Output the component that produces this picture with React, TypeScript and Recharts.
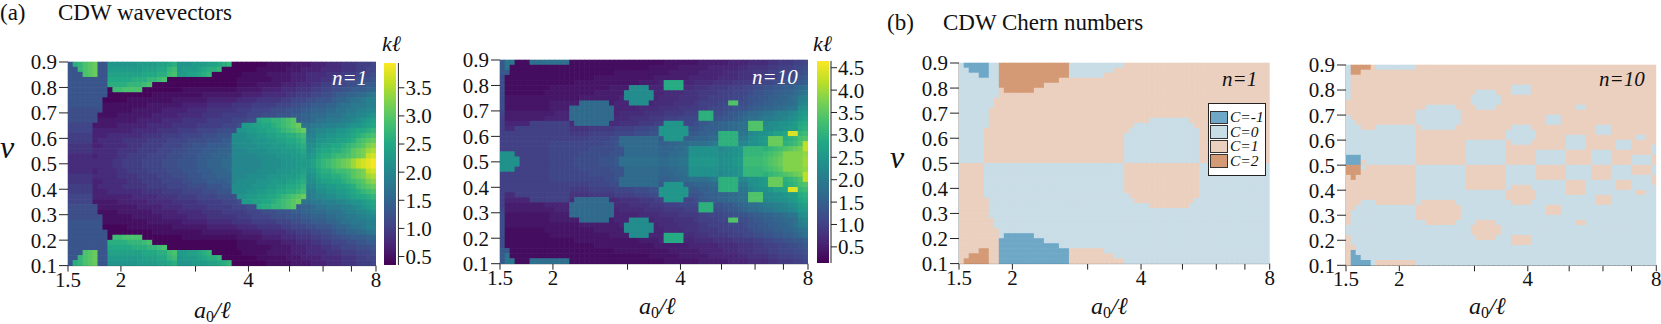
import React from "react";
import { Bar, BarChart, Scatter, ScatterChart, XAxis, YAxis } from "recharts";

const FONT = '"Liberation Serif", serif';

const xTicks = [1.5, 2, 3, 4, 5, 6, 7, 8];
const xLabelled = [1.5, 2, 4, 8];
const nuTicks = [0.1, 0.2, 0.3, 0.4, 0.5, 0.6, 0.7, 0.8, 0.9];
const barTicksN1 = [0.5, 1, 1.5, 2, 2.5, 3, 3.5];
const barTicksN10 = [0.5, 1, 1.5, 2, 2.5, 3, 3.5, 4, 4.5];

const viridis = ["#440154", "#482475", "#414487", "#355f8d", "#2a788e", "#21918c", "#22a884", "#44bf70", "#7ad151", "#bddf26", "#fde725"];
const chernColors: Record<string, string> = { a: "#6fa8c7", b: "#c9dde7", c: "#ebd0bf", d: "#d49a75" };
const chernLegend = [
  { code: "a", label: "C=-1" },
  { code: "b", label: "C=0" },
  { code: "c", label: "C=1" },
  { code: "d", label: "C=2" },
];

// one character per cell, k = 0.3 + 0.1 * position in this alphabet
const LEVELS = "0123456789abcdefghijklmnopqrstuvwxyzABCDEFGH";

// rows run from nu = 0.9 down to 0.1, 62 cells per row
const waveN1 = [
  "anoqrsaajj jjjjkkkkll mnjjjkkkll mno1111111 2222233334 4455566677 78",
  "aaoqrsaakk kkkkklllmm opjkkklmnn o111111122 2222333444 4555566677 88",
  "aaaqrsaall lllllmmmnn pqkkllmno1 1111122222 3333344455 5566677788 89",
  "aaaaaaaamm mmmnnnoopq 1111111111 1111222222 2333344455 5667788899 9a",
  "aaaaaaaann nnooopq111 1111111111 1111222233 3334445556 67788899aa bb",
  "aaaaaaaa1p pqqqq11111 1112222222 2222333334 4445556667 78899aabbb cc",
  "aaaaaaaa11 1111111222 2222222333 3333344445 5555667778 899abbccdd ef",
  "aaaaaaa111 1122222222 2333333344 4444555566 6667788899 aaabccdeef gg",
  "aaaaaaa222 2222223333 3334444455 5556666777 7788899aab bbccdeefff gg",
  "9999999222 2223333334 4444555566 6666777888 8999aaabbc ccddeeffgg hh",
  "9999992222 3333333444 4455555666 6777778889 99aaabbccd ddeeefgghh ij",
  "9999993333 3333444445 5556666677 77788899mn noopqrbccd eefffgghij kl",
  "8888833333 4444445555 5666667777 78889kkllm mnopqrseef fggghhijjk lm",
  "8888844444 4445555566 6677778888 9999jjkkll mmnopqrsfg hhiijjklmm no",
  "7777744455 5555566667 7778888999 aaaiiijjkk llmmnnopgg iijjkklmno pq",
  "7777745555 5666667777 88889999aa abbiiiijjj kkllmmnohh jjkkllmnpq rs",
  "6666644555 5566677778 88899aaabb bbchiiiijj jkkkllmnii kllmmnopqr tu",
  "6666655555 6666777788 8999aaabbb ccchhhiiii jjjkkklmij lmmnnoprst vw",
  "5555545555 6677778888 999aaabbbc ccdhhhhhii iijjjkkljk mnnoppqrst xy",
  "5555555556 6777788889 99aaaabbcc cddhhhhhhi iiijjjkkkl nopqrstvxy zA",
  "5555555556 6777788889 99aaaabbcc cddhhhhhhi iiijjjkkkl nopqrstvxy zA",
  "5555545555 6677778888 999aaabbbc ccdhhhhhii iijjjkkljk mnnoppqrst xy",
  "6666655555 6666777788 8999aaabbb ccchhhiiii jjjkkklmij lmmnnoprst vw",
  "6666644555 5566677778 88899aaabb bbchiiiijj jkkkllmnii kllmmnopqr tu",
  "7777745555 5666667777 88889999aa abbiiiijjj kkllmmnohh jjkkllmnpq rs",
  "7777744455 5555566667 7778888999 aaaiiijjkk llmmnnopgg iijjkklmno pq",
  "8888844444 4445555566 6677778888 9999jjkkll mmnopqrsfg hhiijjklmm no",
  "8888833333 4444445555 5666667777 78889kkllm mnopqrseef fggghhijjk lm",
  "9999993333 3333444445 5556666677 77788899mn noopqrbccd eefffgghij kl",
  "9999992222 3333333444 4455555666 6777778889 99aaabbccd ddeeefgghh ij",
  "9999999222 2223333334 4444555566 6666777888 8999aaabbc ccddeeffgg hh",
  "aaaaaaa222 2222223333 3334444455 5556666777 7788899aab bbccdeefff gg",
  "aaaaaaa111 1122222222 2333333344 4444555566 6667788899 aaabccdeef gg",
  "aaaaaaaa11 1111111222 2222222333 3333344445 5555667778 899abbccdd ef",
  "aaaaaaaa1p pqqqq11111 1112222222 2222333334 4445556667 78899aabbb cc",
  "aaaaaaaann nnooopq111 1111111111 1111222233 3334445556 67788899aa bb",
  "aaaaaaaamm mmmnnnoopq 1111111111 1111222222 2333344455 5667788899 9a",
  "aaaqrsaall lllllmmmnn pqkkllmno1 1111122222 3333344455 5566677788 89",
  "aaoqrsaakk kkkkklllmm opjkkklmnn o111111122 2222333444 4555566677 88",
  "anoqrsaajj jjjjkkkkll mnjjjkkkll mno1111111 2222233334 4455566677 78",
];

const waveN10 = [
  "bgg000ffff ffff000000 0000000000 0001111111 2222223333 4444556667 78",
  "bg00000000 0000000000 0000000000 1111112222 2233333344 5555667778 89",
  "bb00000000 0000000000 0001111111 1111222222 3333344455 5666778889 9a",
  "9000000000 0000000001 1111111111 1222222233 3333444455 5667778899 ab",
  "9000000000 0000011111 1111111122 223qqqq334 4445555666 6778899aab bc",
  "9000000000 1111111111 112222kkkk 333qqqq445 5566667778 899aabbccd ef",
  "9000000001 1111111112 22222kkkkk k334444555 6666777888 9aabbccdde fg",
  "9111111111 1111112222 22223kkkkk k344445555 6677778889 aabbccddef hi",
  "9111111111 222222eeee ee2333kkkk 3444455556 777788vv99 abbccddeef ij",
  "9111111111 2222eeeeee eee3333344 4455556666 7788899aaa bccddeefgg kl",
  "8222222222 2333eeeeee eee3444445 5556666777 rrr99abbcd eefgghiijk mn",
  "7222222223 3333eeeeee eee4445555 6667778888 rrraabbcde ffghhiijkl no",
  "7333337777 77774eeeee ee44555566 677mmmm889 bbccddeeff vvvjkkllmn pq",
  "7447777777 7777555566 6667777888 99mmmmmmaa bcccddeeff vvvkkllmnn qr",
  "7777777777 7777666677 7778888999 aammmmmmbb ccddrrrrgg jkllmoopFF st",
  "7777777777 7777777788 8899eeeeee eebmmmmccd ddeerrrrhh klmnxxxqrs uv",
  "7777777777 8888888888 899aeeeeee eeccddeeff ffghrrrrjj llmnxxxrst vD",
  "7777777777 8888888899 999aaeeeee eedddeefll lllljkklms sssrstuvwx yD",
  "lll7777777 8888889999 99aaaeeeee eeddeeffll llllkkllms ssstuvwzzz zA",
  "llll777777 8888899999 aaabffffff ffeeffggmm mmmmkllmnt tttuvwxzzz zB",
  "llll777777 8888899999 aaabffffff ffeeffggmm mmmmkllmnt tttuvwxzzz zB",
  "lll7777777 8888889999 99aaaeeeee eeddeeffll llllkkllms ssstuvwzzz zA",
  "7777777777 8888888899 999aaeeeee eedddeefll lllljkklms sssrstuvwx yD",
  "7777777777 8888888888 899aeeeeee eeccddeeff ffghrrrrjj llmnxxxrst vD",
  "7777777777 7777777788 8899eeeeee eebmmmmccd ddeerrrrhh klmnxxxqrs uv",
  "7777777777 7777666677 7778888999 aammmmmmbb ccddrrrrgg jkllmoopFF st",
  "7447777777 7777555566 6667777888 99mmmmmmaa bcccddeeff vvvkkllmnn qr",
  "7333337777 77774eeeee ee44555566 677mmmm889 bbccddeeff vvvjkkllmn pq",
  "7222222223 3333eeeeee eee4445555 6667778888 rrraabbcde ffghhiijkl no",
  "8222222222 2333eeeeee eee3444445 5556666777 rrr99abbcd eefgghiijk mn",
  "9111111111 2222eeeeee eee3333344 4455556666 7788899aaa bccddeefgg kl",
  "9111111111 222222eeee ee2333kkkk 3444455556 777788vv99 abbccddeef ij",
  "9111111111 1111112222 22223kkkkk k344445555 6677778889 aabbccddef hi",
  "9000000001 1111111112 22222kkkkk k334444555 6666777888 9aabbccdde fg",
  "9000000000 1111111111 112222kkkk 333qqqq445 5566667778 899aabbccd ef",
  "9000000000 0000011111 1111111122 223qqqq334 4445555666 6778899aab bc",
  "9000000000 0000000001 1111111111 1222222233 3333444455 5667778899 ab",
  "bb00000000 0000000000 0001111111 1111222222 3333344455 5666778889 9a",
  "bg00000000 0000000000 0000000000 1111112222 2233333344 5555667778 89",
  "bgg000ffff ffff000000 0000000000 0001111111 2222223333 4444556667 78",
];

// a: C=-1, b: C=0, c: C=1, d: C=2
const chernN1 = [
  "baaaaabbdd dddddddddd ddbbbbbbbb bbbccccccc cccccccccc cccccccccc cc",
  "bbaaaabbdd dddddddddd ddbbbbbbbb bccccccccc cccccccccc cccccccccc cc",
  "bbbbaabbdd dddddddddd ddbbbbbbbc cccccccccc cccccccccc cccccccccc cc",
  "bbbbbbbbdd dddddddddd cccccccccc cccccccccc cccccccccc cccccccccc cc",
  "bbbbbbbbdd dddddddccc cccccccccc cccccccccc cccccccccc cccccccccc cc",
  "bbbbbbbbcd dddddccccc cccccccccc cccccccccc cccccccccc cccccccccc cc",
  "bbbbbbbbcc cccccccccc cccccccccc cccccccccc cccccccccc cccccccccc cc",
  "bbbbbbbccc cccccccccc cccccccccc cccccccccc cccccccccc cccccccccc cc",
  "bbbbbbbccc cccccccccc cccccccccc cccccccccc cccccccccc cccccccccc cc",
  "bbbbbbcccc cccccccccc cccccccccc cccccccccc cccccccccc cccccccccc cc",
  "bbbbbbcccc cccccccccc cccccccccc cccccccccc cccccccccc cccccccccc cc",
  "bbbbbbcccc cccccccccc cccccccccc ccccccccbb bbbbbbcccc cccccccccc cc",
  "bbbbbbcccc cccccccccc cccccccccc cccccbbbbb bbbbbbbccc cccccccccc cc",
  "bbbbbccccc cccccccccc cccccccccc ccccbbbbbb bbbbbbbbcc cccccccccc cc",
  "bbbbbccccc cccccccccc cccccccccc cccbbbbbbb bbbbbbbbcc cccccccccc cc",
  "bbbbbccccc cccccccccc cccccccccc cccbbbbbbb bbbbbbbbcc cccccccccc cc",
  "bbbbbccccc cccccccccc cccccccccc cccbbbbbbb bbbbbbbbcc cccccccccc cc",
  "bbbbbccccc cccccccccc cccccccccc cccbbbbbbb bbbbbbbbcc cccccccccc cc",
  "bbbbbccccc cccccccccc cccccccccc cccbbbbbbb bbbbbbbbcc cccccccccc cc",
  "bbbbbccccc cccccccccc cccccccccc cccbbbbbbb bbbbbbbbcc cccccccccc cc",
  "cccccbbbbb bbbbbbbbbb bbbbbbbbbb bbbccccccc ccccccccbb bbbbbbbbbb bb",
  "cccccbbbbb bbbbbbbbbb bbbbbbbbbb bbbccccccc ccccccccbb bbbbbbbbbb bb",
  "cccccbbbbb bbbbbbbbbb bbbbbbbbbb bbbccccccc ccccccccbb bbbbbbbbbb bb",
  "cccccbbbbb bbbbbbbbbb bbbbbbbbbb bbbccccccc ccccccccbb bbbbbbbbbb bb",
  "cccccbbbbb bbbbbbbbbb bbbbbbbbbb bbbccccccc ccccccccbb bbbbbbbbbb bb",
  "cccccbbbbb bbbbbbbbbb bbbbbbbbbb bbbccccccc ccccccccbb bbbbbbbbbb bb",
  "cccccbbbbb bbbbbbbbbb bbbbbbbbbb bbbbcccccc ccccccccbb bbbbbbbbbb bb",
  "ccccccbbbb bbbbbbbbbb bbbbbbbbbb bbbbbccccc cccccccbbb bbbbbbbbbb bb",
  "ccccccbbbb bbbbbbbbbb bbbbbbbbbb bbbbbbbbcc ccccccbbbb bbbbbbbbbb bb",
  "ccccccbbbb bbbbbbbbbb bbbbbbbbbb bbbbbbbbbb bbbbbbbbbb bbbbbbbbbb bb",
  "ccccccbbbb bbbbbbbbbb bbbbbbbbbb bbbbbbbbbb bbbbbbbbbb bbbbbbbbbb bb",
  "cccccccbbb bbbbbbbbbb bbbbbbbbbb bbbbbbbbbb bbbbbbbbbb bbbbbbbbbb bb",
  "cccccccbbb bbbbbbbbbb bbbbbbbbbb bbbbbbbbbb bbbbbbbbbb bbbbbbbbbb bb",
  "ccccccccbb bbbbbbbbbb bbbbbbbbbb bbbbbbbbbb bbbbbbbbbb bbbbbbbbbb bb",
  "ccccccccba aaaaabbbbb bbbbbbbbbb bbbbbbbbbb bbbbbbbbbb bbbbbbbbbb bb",
  "ccccccccaa aaaaaaabbb bbbbbbbbbb bbbbbbbbbb bbbbbbbbbb bbbbbbbbbb bb",
  "ccccccccaa aaaaaaaaaa bbbbbbbbbb bbbbbbbbbb bbbbbbbbbb bbbbbbbbbb bb",
  "ccccddccaa aaaaaaaaaa aacccccccb bbbbbbbbbb bbbbbbbbbb bbbbbbbbbb bb",
  "ccddddccaa aaaaaaaaaa aacccccccc cbbbbbbbbb bbbbbbbbbb bbbbbbbbbb bb",
  "cdddddccaa aaaaaaaaaa aacccccccc cccbbbbbbb bbbbbbbbbb bbbbbbbbbb bb",
];

const chernN10 = [
  "bddddcbbbb bbbbcccccc cccccccccc cccccccccc cccccccccc cccccccccc cc",
  "bddccccccc cccccccccc cccccccccc cccccccccc cccccccccc cccccccccc cc",
  "bccccccccc cccccccccc cccccccccc cccccccccc cccccccccc cccccccccc cc",
  "bccccccccc cccccccccc cccccccccc cccccccccc cccccccccc cccccccccc cc",
  "bccccccccc cccccccccc cccccccccc cccbbbbccc cccccccccc cccccccccc cc",
  "bccccccccc cccccccccc ccccccbbbb cccbbbbccc cccccccccc cccccccccc cc",
  "bccccccccc cccccccccc cccccbbbbb bccccccccc cccccccccc cccccccccc cc",
  "cccccccccc cccccccccc cccccbbbbb bccccccccc cccccccccc cccccccccc cc",
  "cccccccccc ccccccbbbb bbccccbbbb cccccccccc ccccccbbcc cccccccccc cc",
  "cccccccccc ccccbbbbbb bbbccccccc cccccccccc cccccccccc cccccccccc cc",
  "bccccccccc ccccbbbbbb bbbccccccc cccccccccc bbbccccccc cccccccccc cc",
  "bbcccccccc ccccbbbbbb bbbccccccc cccccccccc bbbccccccc cccccccccc cc",
  "bbbcccbbbb bbbbcbbbbb bbcccccccc cccbbbbccc cccccccccc bbbccccccc cc",
  "bbbbbbbbbb bbbbcccccc cccccccccc ccbbbbbbcc cccccccccc bbbccccccc cc",
  "bbbbbbbbbb bbbbcccccc cccccccccc ccbbbbbbcc ccccbbbbcc ccccccccbb cc",
  "bbbbbbbbbb bbbbcccccc ccccbbbbbb bbcbbbbccc ccccbbbbcc ccccbbbccc cc",
  "bbbbbbbbbb bbbbcccccc ccccbbbbbb bbcccccccc ccccbbbbcc ccccbbbccc cb",
  "bbbbbbbbbb bbbbcccccc ccccbbbbbb bbccccccbb bbbbcccccb bbbccccccc cb",
  "aaabbbbbbb bbbbcccccc ccccbbbbbb bbccccccbb bbbbcccccb bbbccccbbb bc",
  "aaacbbbbbb bbbbcccccc ccccbbbbbb bbccccccbb bbbbcccccb bbbccccbbb bc",
  "dddbcccccc ccccbbbbbb bbbbcccccc ccbbbbbbcc ccccbbbbbc cccbbbbccc cb",
  "dddccccccc ccccbbbbbb bbbbcccccc ccbbbbbbcc ccccbbbbbc cccbbbbccc cb",
  "cdcccccccc ccccbbbbbb bbbbcccccc ccbbbbbbcc ccccbbbbbc cccbbbbbbb bc",
  "cccccccccc ccccbbbbbb bbbbcccccc ccbbbbbbbb bbbbccccbb bbbbcccbbb bc",
  "cccccccccc ccccbbbbbb bbbbcccccc ccbccccbbb bbbbccccbb bbbbcccbbb bb",
  "cccccccccc ccccbbbbbb bbbbbbbbbb bbccccccbb bbbbccccbb bbbbbbbbcc bb",
  "cccccccccc ccccbbbbbb bbbbbbbbbb bbccccccbb bbbbbbbbbb cccbbbbbbb bb",
  "cccbbbcccc ccccbccccc ccbbbbbbbb bbbccccbbb bbbbbbbbbb cccbbbbbbb bb",
  "ccbbbbbbbb bbbbcccccc cccbbbbbbb bbbbbbbbbb cccbbbbbbb bbbbbbbbbb bb",
  "cbbbbbbbbb bbbbcccccc cccbbbbbbb bbbbbbbbbb cccbbbbbbb bbbbbbbbbb bb",
  "cbbbbbbbbb bbbbcccccc cccbbbbbbb bbbbbbbbbb bbbbbbbbbb bbbbbbbbbb bb",
  "cbbbbbbbbb bbbbbbcccc ccbbbbcccc bbbbbbbbbb bbbbbbccbb bbbbbbbbbb bb",
  "bbbbbbbbbb bbbbbbbbbb bbbbbccccc cbbbbbbbbb bbbbbbbbbb bbbbbbbbbb bb",
  "bbbbbbbbbb bbbbbbbbbb bbbbbccccc cbbbbbbbbb bbbbbbbbbb bbbbbbbbbb bb",
  "cbbbbbbbbb bbbbbbbbbb bbbbbbcccc bbbccccbbb bbbbbbbbbb bbbbbbbbbb bb",
  "cbbbbbbbbb bbbbbbbbbb bbbbbbbbbb bbbccccbbb bbbbbbbbbb bbbbbbbbbb bb",
  "ccbbbbbbbb bbbbbbbbbb bbbbbbbbbb bbbbbbbbbb bbbbbbbbbb bbbbbbbbbb bb",
  "cabbbbbbbb bbbbbbbbbb bbbbbbbbbb bbbbbbbbbb bbbbbbbbbb bbbbbbbbbb bb",
  "caabbbbbbb bbbbbbbbbb bbbbbbbbbb bbbbbbbbbb bbbbbbbbbb bbbbbbbbbb bb",
  "caaaabcccc ccccbbbbbb bbbbbbbbbb bbbbbbbbbb bbbbbbbbbb bbbbbbbbbb bb",
];

type Box = { left: number; top: number; right: number; bottom: number };

function viridisAt(f: number) {
  const t = Math.min(1, Math.max(0, f)) * (viridis.length - 1);
  const i = Math.min(viridis.length - 2, Math.floor(t));
  const from = viridis[i];
  const to = viridis[i + 1];
  const mix = [1, 3, 5].map((p) => {
    const a = parseInt(from.slice(p, p + 2), 16);
    const b = parseInt(to.slice(p, p + 2), 16);
    return Math.round(a + (b - a) * (t - i));
  });
  return `rgb(${mix.join(",")})`;
}

function toCells(rows: string[]) {
  return rows.flatMap((row, r) =>
    row
      .replace(/ /g, "")
      .split("")
      .map((code, c) => ({
        a0: 1.5 * Math.pow(8 / 1.5, (c + 0.5) / 62),
        nu: 0.9 - (r + 0.5) * 0.02,
        code,
      })),
  );
}

function HeatPanel({ rows, box, colorOf }: { rows: string[]; box: Box; colorOf: (code: string) => string }) {
  const w = box.right - box.left;
  const h = box.bottom - box.top;
  const cw = w / 62 + 0.6;
  const ch = h / 40 + 0.6;
  const tickStyle = { fontFamily: FONT, fontSize: 21, fill: "#111" };
  return (
    <div style={{ position: "absolute", left: box.left - 50, top: box.top - 20 }}>
      <ScatterChart width={w + 64} height={h + 65} margin={{ top: 20, right: 14, bottom: 5, left: 10 }}>
        <XAxis
          dataKey="a0"
          type="number"
          scale="log"
          domain={[1.5, 8]}
          ticks={xTicks}
          interval={0}
          allowDataOverflow
          height={40}
          tickSize={6}
          tickMargin={0}
          stroke="#222"
          tick={tickStyle}
          tickFormatter={(v: number) => (xLabelled.includes(v) ? String(v) : "")}
        />
        <YAxis
          dataKey="nu"
          type="number"
          domain={[0.1, 0.9]}
          ticks={nuTicks}
          interval={0}
          width={40}
          tickSize={9}
          tickMargin={2}
          axisLine={{ stroke: "#999" }}
          tickLine={{ stroke: "#222" }}
          tick={tickStyle}
          tickFormatter={(v: number) => v.toFixed(1)}
        />
        <Scatter
          data={toCells(rows)}
          isAnimationActive={false}
          shape={(p: any) => <rect x={p.cx - cw / 2} y={p.cy - ch / 2} width={cw} height={ch} fill={colorOf(p.payload.code)} />}
        />
      </ScatterChart>
    </div>
  );
}

function ColorBar({ id, box, range, ticks }: { id: string; box: Box; range: [number, number]; ticks: number[] }) {
  const w = box.right - box.left;
  const h = box.bottom - box.top;
  return (
    <div style={{ position: "absolute", left: box.left, top: box.top - 20 }}>
      <BarChart width={w + 50} height={h + 40} data={[{ name: "k", range }]} barCategoryGap={0} margin={{ top: 20, right: 0, bottom: 20, left: 0 }}>
        <defs>
          <linearGradient id={id} x1="0" y1="1" x2="0" y2="0">
            {viridis.map((c, i) => (
              <stop key={c} offset={i / (viridis.length - 1)} stopColor={c} />
            ))}
          </linearGradient>
        </defs>
        <XAxis dataKey="name" hide />
        <YAxis
          orientation="right"
          type="number"
          domain={range}
          ticks={ticks}
          interval={0}
          width={50}
          tickSize={6}
          tickMargin={1}
          stroke="#222"
          tick={{ fontFamily: FONT, fontSize: 21, fill: "#111" }}
          tickFormatter={(v: number) => v.toFixed(1)}
        />
        <Bar
          dataKey="range"
          isAnimationActive={false}
          shape={(p: any) => <rect x={p.x} y={p.y} width={p.width - 2} height={p.height} fill={`url(#${id})`} />}
        />
      </BarChart>
    </div>
  );
}

function Txt({ x, y, size, italic, color, children }: { x: number; y: number; size: number; italic?: boolean; color?: string; children: React.ReactNode }) {
  return (
    <div
      style={{
        position: "absolute",
        left: x,
        top: y,
        fontFamily: FONT,
        fontSize: size,
        fontStyle: italic ? "italic" : "normal",
        color: color ?? "#111",
        lineHeight: 1.1,
        whiteSpace: "nowrap",
      }}
    >
      {children}
    </div>
  );
}

function AxisName({ x, y }: { x: number; y: number }) {
  return (
    <Txt x={x} y={y} size={24} italic>
      a<span style={{ position: "relative", top: 4, fontSize: 16, fontStyle: "normal" }}>0</span>/ℓ
    </Txt>
  );
}

const waveColor = (min: number, max: number) => (code: string) => viridisAt((0.3 + 0.1 * LEVELS.indexOf(code) - min) / (max - min));
const chernColor = (code: string) => chernColors[code];

export default function App() {
  return (
    <div style={{ position: "absolute", left: 0, top: 0, width: 1661, height: 324, background: "#fff", overflow: "hidden" }}>
      <Txt x={0} y={0} size={23}>(a)</Txt>
      <Txt x={58} y={0} size={23}>CDW wavevectors</Txt>
      <Txt x={887} y={10} size={23}>(b)</Txt>
      <Txt x={943} y={10} size={23}>CDW Chern numbers</Txt>

      <HeatPanel rows={waveN1} box={{ left: 67.7, top: 61.7, right: 375.7, bottom: 265.3 }} colorOf={waveColor(0.35, 3.94)} />
      <ColorBar id="barN1" box={{ left: 384.3, top: 63, right: 398.7, bottom: 265 }} range={[0.35, 3.94]} ticks={barTicksN1} />
      <HeatPanel rows={waveN10} box={{ left: 500, top: 60, right: 808, bottom: 263.7 }} colorOf={waveColor(0.14, 4.65)} />
      <ColorBar id="barN10" box={{ left: 817.3, top: 61.3, right: 831.3, bottom: 263.3 }} range={[0.14, 4.65]} ticks={barTicksN10} />
      <HeatPanel rows={chernN1} box={{ left: 959.3, top: 62.7, right: 1270, bottom: 263.3 }} colorOf={chernColor} />
      <HeatPanel rows={chernN10} box={{ left: 1345.7, top: 64.7, right: 1656, bottom: 265 }} colorOf={chernColor} />

      <Txt x={0} y={130} size={32} italic>ν</Txt>
      <Txt x={890} y={140} size={32} italic>ν</Txt>
      <Txt x={382} y={32} size={22} italic>kℓ</Txt>
      <Txt x={813} y={32} size={22} italic>kℓ</Txt>
      <AxisName x={194} y={297} />
      <AxisName x={639} y={293} />
      <AxisName x={1091} y={293} />
      <AxisName x={1469} y={293} />

      <Txt x={332} y={67} size={21} italic color="#fff">n=1</Txt>
      <Txt x={752} y={66} size={21} italic color="#fff">n=10</Txt>
      <Txt x={1222} y={68} size={21} italic>n=1</Txt>
      <Txt x={1599} y={68} size={21} italic>n=10</Txt>

      <div style={{ position: "absolute", left: 1208, top: 103, width: 58, height: 73, background: "#fff", border: "1.5px solid #222", boxSizing: "border-box", padding: "6px 0 0 1px" }}>
        {chernLegend.map((item) => (
          <div key={item.code} style={{ display: "flex", alignItems: "center", height: 14.5, fontFamily: FONT, fontStyle: "italic", fontSize: 15.5, color: "#111" }}>
            <span style={{ display: "inline-block", width: 16, height: 11.5, background: chernColors[item.code], border: "1px solid #333", marginRight: 2 }} />
            {item.label}
          </div>
        ))}
      </div>
    </div>
  );
}
